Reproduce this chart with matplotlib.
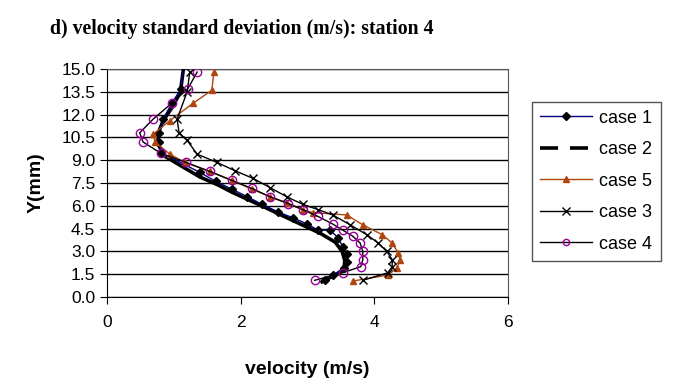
import matplotlib
matplotlib.use("Agg")
from matplotlib import pyplot as plt
from matplotlib.lines import Line2D

# case 1: navy line, black diamonds
case1_v = [1.14, 1.11, 0.97, 0.84, 0.78, 0.78, 0.81, 1.39, 1.63, 1.87, 2.10, 2.32, 2.56,
           2.79, 3.00, 3.16, 3.34, 3.46, 3.53, 3.60, 3.60, 3.55, 3.38, 3.26]
case1_y = [15.2, 13.7, 12.75, 11.7, 10.8, 10.2, 9.5, 8.2, 7.6, 7.1, 6.6, 6.1, 5.6,
           5.2, 4.8, 4.4, 4.4, 3.9, 3.3, 2.8, 2.3, 1.9, 1.45, 1.1]

# case 2: thick black
case2_v = [1.15, 1.10, 0.98, 0.84, 0.76, 0.77, 0.87, 1.39, 1.65, 1.87, 2.34, 2.75, 3.19,
           3.42, 3.52, 3.56, 3.55, 3.45, 3.30, 3.22]
case2_y = [15.2, 13.5, 12.5, 11.6, 10.7, 10.0, 9.25, 7.9, 7.4, 6.9, 5.95, 5.1, 4.2,
           3.6, 3.0, 2.4, 1.9, 1.5, 1.2, 1.0]

# case 5: brown triangles
case5_v = [1.60, 1.57, 1.29, 0.94, 0.69, 0.72, 0.94, 1.17, 1.54, 1.87, 2.17, 2.44, 2.69,
           2.93, 3.08, 3.59, 3.83, 4.12, 4.27, 4.36, 4.39, 4.34, 4.21, 3.68]
case5_y = [14.8, 13.6, 12.75, 11.6, 10.7, 10.2, 9.4, 8.85, 8.26, 7.67, 7.1, 6.6, 6.2,
           5.75, 5.55, 5.4, 4.75, 4.1, 3.55, 2.9, 2.45, 1.9, 1.45, 1.05]

# case 3: black line, x markers
case3_v = [1.24, 1.20, 1.05, 1.08, 1.20, 1.35, 1.65, 1.92, 2.19, 2.44, 2.69, 2.93, 3.16,
           3.38, 3.64, 3.89, 4.06, 4.19, 4.27, 4.27, 4.21, 3.83]
case3_y = [14.8, 13.5, 11.7, 10.8, 10.3, 9.4, 8.85, 8.3, 7.8, 7.2, 6.6, 6.1, 5.75,
           5.4, 4.75, 4.1, 3.55, 3.0, 2.45, 2.0, 1.6, 1.1]

# case 4: black line, purple open circles
case4_v = [1.35, 1.21, 0.97, 0.69, 0.49, 0.54, 0.81, 1.18, 1.54, 1.87, 2.17, 2.44, 2.71,
           2.93, 3.16, 3.38, 3.53, 3.68, 3.79, 3.83, 3.83, 3.80, 3.53, 3.11]
case4_y = [14.8, 13.7, 12.75, 11.7, 10.8, 10.2, 9.45, 8.86, 8.26, 7.67, 7.14, 6.6, 6.15,
           5.75, 5.3, 4.8, 4.4, 4.0, 3.55, 3.0, 2.45, 2.0, 1.6, 1.1]

y_ticks = [0.0, 1.5, 3.0, 4.5, 6.0, 7.5, 9.0, 10.5, 12.0, 13.5, 15.0]
x_ticks = [0, 2, 4, 6]

plt.rcParams["font.family"] = ["Liberation Sans", "DejaVu Sans"]

fig = plt.figure(figsize=(6.77, 3.83), dpi=100, facecolor="white")
ax = fig.add_axes([0.158, 0.2245, 0.592, 0.5953])

ax.plot(case2_v, case2_y, color="black", lw=2.6, zorder=2)
ax.plot(case1_v, case1_y, color="#000080", lw=1, marker="D", ms=4,
        mfc="black", mec="black", zorder=3)
ax.plot(case5_v, case5_y, color="#B0460E", lw=1, marker="^", ms=5,
        mfc="#B0460E", mec="#B0460E", zorder=3)
ax.plot(case3_v, case3_y, color="black", lw=1, marker="x", ms=6, mew=1, zorder=3)
ax.plot(case4_v, case4_y, color="black", lw=1, marker="o", ms=6,
        mfc="none", mec="#990099", zorder=3)

ax.set_xlim(0, 6)
ax.set_ylim(0, 15)
ax.set_xticks(x_ticks)
ax.set_yticks(y_ticks)
ax.set_yticklabels([f"{t:.1f}" for t in y_ticks])
ax.tick_params(labelsize=12.5, direction="out", length=5, color="black")
ax.tick_params(axis="x", pad=8)
ax.yaxis.grid(True, color="black", lw=1)
ax.set_axisbelow(True)
for s in ax.spines.values():
    s.set_color("#555555")
ax.spines["left"].set_color("black")
ax.spines["bottom"].set_color("black")

ax.set_xlabel("velocity (m/s)", fontsize=14, fontweight="bold", labelpad=22)
ax.set_ylabel("Y(mm)", fontsize=14, fontweight="bold", labelpad=12)

fig.text(0.074, 0.925, "d) velocity standard deviation (m/s): station 4",
         family=["Liberation Serif", "DejaVu Serif"], fontsize=14.2,
         fontweight="bold", va="center", ha="left")

handles = [
    Line2D([], [], color="#000080", lw=1, marker="D", ms=4, mfc="black", mec="black"),
    Line2D([], [], color="black", lw=2.6, ls=(0, (5, 3.3))),
    Line2D([], [], color="#B0460E", lw=1, marker="^", ms=5, mfc="#B0460E", mec="#B0460E"),
    Line2D([], [], color="black", lw=1, marker="x", ms=6),
    Line2D([], [], color="black", lw=1, marker="o", ms=4.5, mfc="none", mec="#990099"),
]
leg = fig.legend(handles, ["case 1", "case 2", "case 5", "case 3", "case 4"],
                 loc="center left", bbox_to_anchor=(0.772, 0.527),
                 fontsize=13, handlelength=2.9, labelspacing=0.8,
                 borderpad=0.45, handletextpad=0.4, fancybox=False,
                 framealpha=1, edgecolor="#555555")
leg.get_frame().set_linewidth(1)

fig.savefig("out.png", dpi=100)
